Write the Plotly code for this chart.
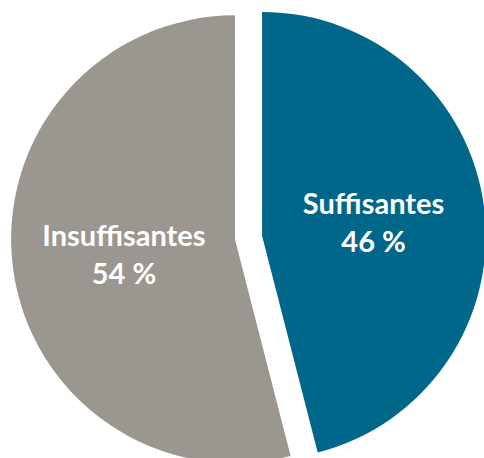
import plotly.graph_objects as go

labels = ["Suffisantes", "Insuffisantes"]
values = [46, 54]
colors = ["#00678A", "#9B968F"]
pulls = [0.061, 0.061]

fig = go.Figure(go.Pie(
    labels=labels,
    values=values,
    sort=False,
    direction="clockwise",
    rotation=0,
    pull=pulls,
    marker=dict(colors=colors, line=dict(width=0)),
    texttemplate="%{label}<br>%{value} %",
    textposition="inside",
    insidetextorientation="horizontal",
    textfont=dict(family="Lato", size=29, color="white", weight="bold"),
    hoverinfo="skip",
    showlegend=False,
    domain=dict(x=[0, 1], y=[0, 1]),
))

fig.update_layout(
    width=486,
    height=475,
    margin=dict(l=11, r=0, t=0, b=0),
    paper_bgcolor="white",
    plot_bgcolor="white",
)

fig.write_html(
    "out.html",
    config={"displayModeBar": False},
    post_script="document.body.style.overflow='hidden';document.documentElement.style.overflow='hidden';document.body.style.margin='0';",
)
